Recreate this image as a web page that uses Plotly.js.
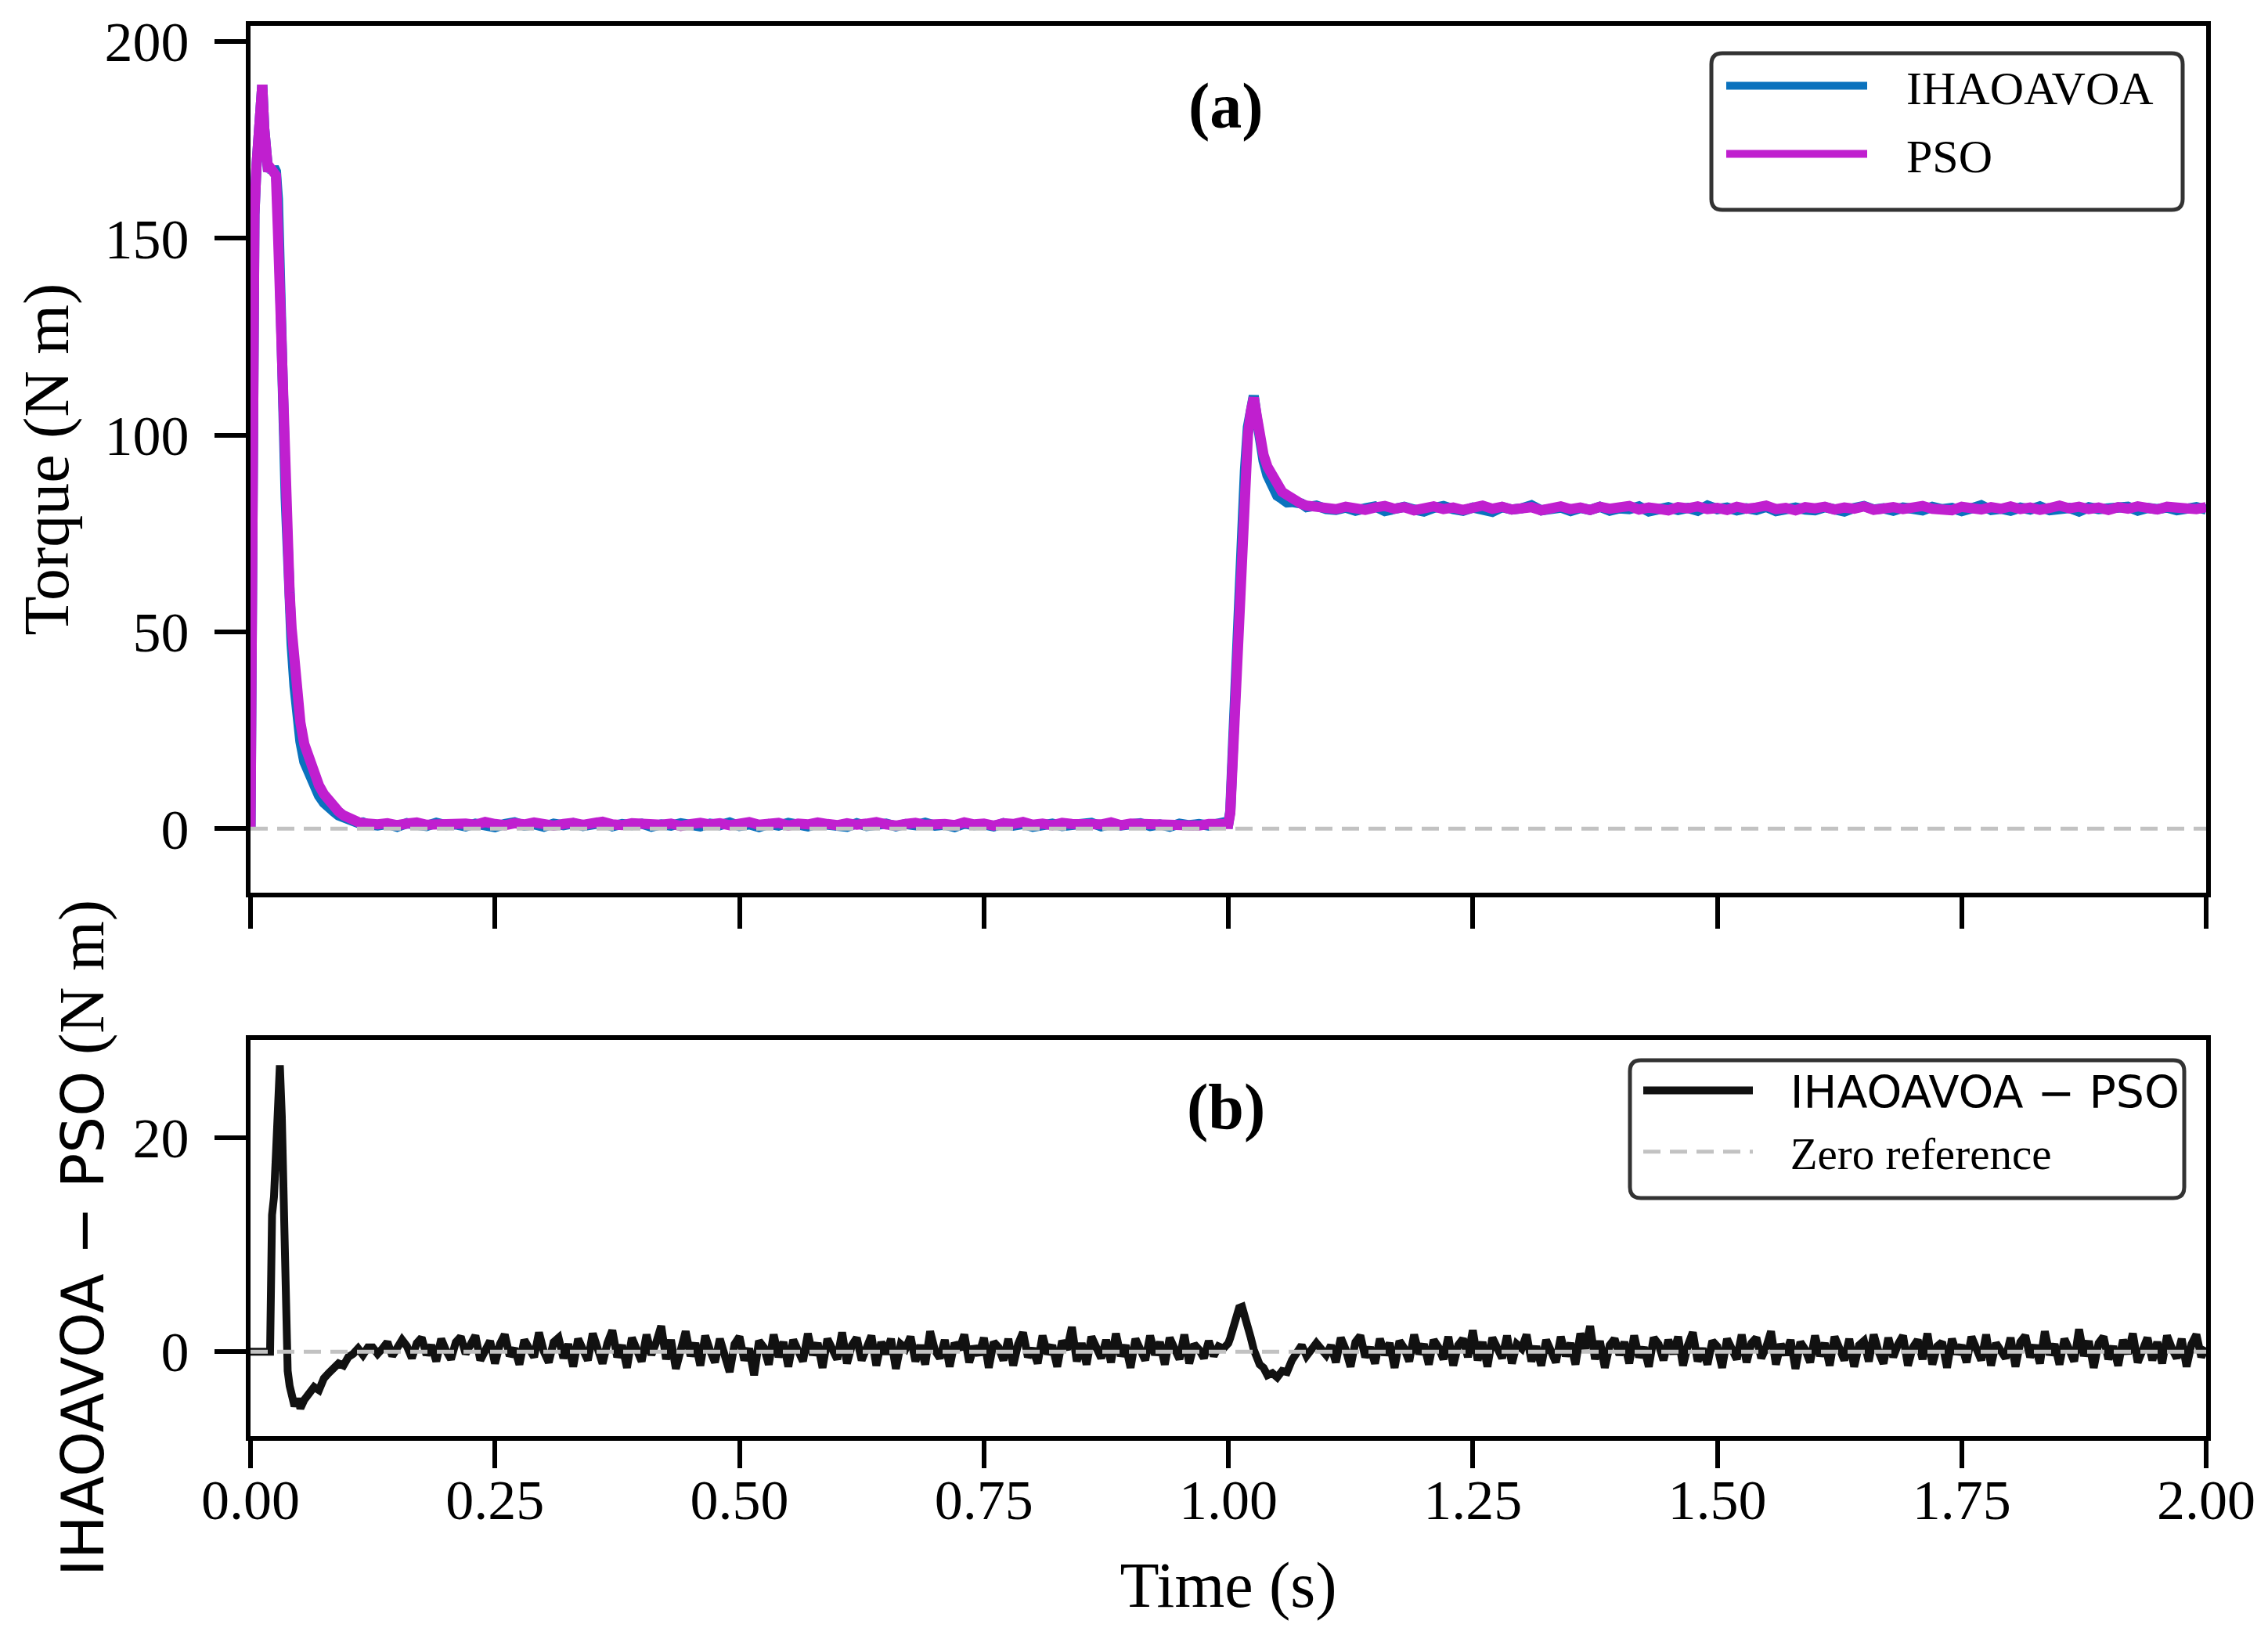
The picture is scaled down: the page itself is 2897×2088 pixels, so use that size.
<!DOCTYPE html>
<html>
<head>
<meta charset="utf-8">
<script src="https://cdn.plot.ly/plotly-3.0.1.min.js"></script>
<style>
  html, body { margin: 0; padding: 0; background: #ffffff; }
  #graph { width: 2897px; height: 2088px; }
</style>
</head>
<body>
<div id="graph"></div>
<script>
// time samples (s) of panel (a), denser around the two transients
var time = [
  0, 0.002, 0.004, 0.006, 0.008, 0.010, 0.012, 0.014, 0.016, 0.018,
  0.020, 0.022, 0.024, 0.026, 0.028, 0.030, 0.032, 0.034, 0.036, 0.038,
  0.040, 0.042, 0.045, 0.048, 0.051, 0.055, 0.060, 0.065, 0.070, 0.075,
  0.080, 0.085, 0.090, 0.095, 0.100, 0.105, 0.110, 0.115, 0.120,
  0.13, 0.14, 0.15, 0.16, 0.17, 0.18, 0.19, 0.20, 0.21, 0.22,
  0.23, 0.24, 0.25, 0.26, 0.27, 0.28, 0.29, 0.30, 0.31, 0.32,
  0.33, 0.34, 0.35, 0.36, 0.37, 0.38, 0.39, 0.40, 0.41, 0.42,
  0.43, 0.44, 0.45, 0.46, 0.47, 0.48, 0.49, 0.50, 0.51, 0.52,
  0.53, 0.54, 0.55, 0.56, 0.57, 0.58, 0.59, 0.60, 0.61, 0.62,
  0.63, 0.64, 0.65, 0.66, 0.67, 0.68, 0.69, 0.70, 0.71, 0.72,
  0.73, 0.74, 0.75, 0.76, 0.77, 0.78, 0.79, 0.80, 0.81, 0.82,
  0.83, 0.84, 0.85, 0.86, 0.87, 0.88, 0.89, 0.90, 0.91, 0.92,
  0.93, 0.94, 0.95, 0.96, 0.97, 0.98, 0.99,
  0.995, 1.000, 1.002, 1.005, 1.008, 1.011, 1.014, 1.017, 1.020, 1.023,
  1.026, 1.029, 1.032, 1.036, 1.040, 1.045, 1.050, 1.055, 1.060, 1.065,
  1.070, 1.075, 1.080, 1.090, 1.100,
  1.11, 1.12, 1.13, 1.14, 1.15, 1.16, 1.17, 1.18, 1.19, 1.20,
  1.21, 1.22, 1.23, 1.24, 1.25, 1.26, 1.27, 1.28, 1.29, 1.30,
  1.31, 1.32, 1.33, 1.34, 1.35, 1.36, 1.37, 1.38, 1.39, 1.40,
  1.41, 1.42, 1.43, 1.44, 1.45, 1.46, 1.47, 1.48, 1.49, 1.50,
  1.51, 1.52, 1.53, 1.54, 1.55, 1.56, 1.57, 1.58, 1.59, 1.60,
  1.61, 1.62, 1.63, 1.64, 1.65, 1.66, 1.67, 1.68, 1.69, 1.70,
  1.71, 1.72, 1.73, 1.74, 1.75, 1.76, 1.77, 1.78, 1.79, 1.80,
  1.81, 1.82, 1.83, 1.84, 1.85, 1.86, 1.87, 1.88, 1.89, 1.90,
  1.91, 1.92, 1.93, 1.94, 1.95, 1.96, 1.97, 1.98, 1.99, 2.00
];

// torque of the IHAOAVOA-tuned controller (N m)
var torqueIhaoavoa = [
  0, 140, 156, 168, 176, 187, 189, 178, 168, 167,
  168, 167, 168, 167, 160, 146, 124, 103, 84, 68.5,
  57, 47, 36.2, 27.8, 22.2, 17, 13.7, 10.5, 8.4, 6.6,
  5.2, 4.4, 3.4, 2.8, 2.4, 2.2, 1.5, 1.6, 1.1,
  0.8, 1.2, 0.5, 1.4, 1.0, 0.7, 1.5, 0.9, 1.1, 0.6,
  1.3, 1.0, 0.4, 1.2, 1.6, 0.8, 1.1, 0.5, 1.3, 0.9,
  1.4, 0.7, 1.0, 1.5, 0.6, 1.2, 0.9, 1.3, 0.5, 1.1,
  0.8, 1.4, 1.0, 0.6, 1.3, 0.9, 1.6, 0.7, 1.1, 0.4,
  1.2, 0.8, 1.5, 1.0, 0.6, 1.3, 0.9, 1.1, 0.5, 1.4,
  0.7, 1.0, 1.3, 0.6, 1.2, 0.9, 1.5, 0.8, 1.0, 0.4,
  1.3, 0.9, 1.1, 0.6, 1.4, 0.8, 1.2, 0.5, 1.0, 1.3,
  0.7, 1.1, 0.9, 1.5, 0.6, 1.2, 0.8, 1.0, 1.4, 0.7,
  1.1, 0.5, 1.3, 0.9, 1.2, 0.8, 1.6,
  1.6, 1.4, 4.5, 22.5, 43, 59, 76, 91, 102, 107,
  110, 104.5, 98.3, 93.5, 89.8, 87.5, 84.6, 83.8, 82.9, 83.0,
  83.1, 82.6, 81.7, 82.1, 81.2,
  81.0, 81.6, 80.8, 81.4, 81.9, 80.7, 81.3, 81.8, 81.1, 80.6,
  81.5, 82.0, 81.2, 80.8, 81.6, 81.3, 80.5, 81.7, 81.1, 81.4,
  82.2, 80.9, 81.3, 81.6, 80.7, 81.5, 81.0, 81.8, 80.8, 81.4,
  81.2, 81.9, 80.6, 81.3, 81.7, 81.0, 81.5, 80.8, 82.1, 81.2,
  81.6, 80.9, 81.4, 81.0, 81.8, 80.7, 81.3, 81.6, 81.1, 80.9,
  81.7, 81.2, 80.6, 81.5, 82.0, 81.1, 81.4, 80.8, 81.6, 81.3,
  80.9, 81.8, 81.2, 81.5, 80.7, 81.4, 82.2, 81.0, 81.3, 80.8,
  81.6, 81.1, 81.9, 80.9, 81.3, 81.5, 80.6, 81.7, 81.2, 81.4,
  81.0, 81.8, 80.8, 81.5, 81.2, 81.6, 80.9, 81.3, 81.7, 81.1
];

// torque of the PSO-tuned controller (N m)
var torquePso = [
  0, 140, 156, 168, 176, 187, 189, 178, 168, 167,
  168, 167, 167, 166, 152, 134, 112, 96, 82, 70,
  60, 51, 41, 33, 27, 21.5, 17.5, 14, 11, 8.8,
  7, 5.6, 4.4, 3.4, 2.7, 2.1, 1.7, 1.4, 1.2,
  1.1, 1.4, 0.9, 1.3, 1.6, 1.0, 1.2, 0.8, 1.5, 1.3,
  1.0, 1.7, 1.2, 0.9, 1.4, 1.1, 1.6, 1.3, 0.8, 1.2,
  1.5, 1.0, 1.3, 1.8, 1.1, 0.9, 1.4, 1.2, 1.6, 1.0,
  1.3, 0.7, 1.2, 1.5, 1.1, 1.4, 0.9, 1.3, 1.7, 1.0,
  1.2, 1.5, 0.8, 1.3, 1.1, 1.6, 1.2, 0.9, 1.4, 1.0,
  1.3, 1.7, 1.1, 0.8, 1.2, 1.5, 1.0, 1.4, 1.2, 0.9,
  1.6, 1.1, 1.3, 0.8, 1.4, 1.2, 1.7, 1.0, 1.3, 0.9,
  1.5, 1.2, 1.0, 1.4, 1.1, 1.6, 0.9, 1.3, 1.2, 1.5,
  1.0, 1.4, 1.1, 1.3, 0.8, 1.2, 1.4,
  1.3, 1.2, 4, 21, 40, 55, 72, 88, 100, 106,
  109.5, 105, 99.5, 95, 92, 89.5, 87, 85.6, 84.8, 83.8,
  83.0, 82.5, 82.1, 81.7, 81.5,
  81.2, 81.8, 81.4, 81.0, 81.6, 82.0, 81.3, 81.7, 80.9, 81.5,
  81.9, 81.2, 81.6, 81.0, 81.4, 82.1, 81.3, 81.8, 81.1, 81.5,
  81.7, 80.9, 81.4, 81.9, 81.2, 81.6, 81.0, 81.8, 81.3, 81.5,
  82.0, 81.1, 81.6, 81.3, 80.9, 81.7, 81.4, 81.9, 81.2, 81.5,
  81.0, 81.8, 81.3, 81.6, 82.1, 81.2, 81.5, 80.9, 81.7, 81.4,
  81.8, 81.1, 81.6, 81.3, 81.9, 81.0, 81.5, 81.7, 81.2, 81.6,
  82.0, 81.3, 81.4, 80.9, 81.8, 81.5, 81.1, 81.7, 81.3, 81.9,
  81.2, 81.6, 81.0, 81.5, 82.1, 81.4, 81.8, 81.2, 81.6, 81.0,
  81.7, 81.3, 81.9, 81.5, 81.1, 81.8, 81.4, 81.6, 81.2, 81.7
];

// time samples (s) of panel (b), finer in the steady parts
var diffTime = [
  0, 0.002, 0.004, 0.006, 0.008, 0.010, 0.012, 0.014, 0.016, 0.018,
  0.020, 0.022, 0.024, 0.026, 0.028, 0.030, 0.032, 0.034, 0.036, 0.038,
  0.040, 0.042, 0.045, 0.048, 0.051, 0.055, 0.060, 0.065, 0.070, 0.075,
  0.080, 0.085, 0.090, 0.095, 0.100, 0.105, 0.110, 0.115, 0.120,
  0.125, 0.130, 0.135, 0.140, 0.145, 0.150, 0.155, 0.160, 0.165, 0.170,
  0.175, 0.180, 0.185, 0.190, 0.195, 0.200, 0.205, 0.210, 0.215, 0.220,
  0.225, 0.230, 0.235, 0.240, 0.245, 0.250, 0.255, 0.260, 0.265, 0.270,
  0.275, 0.280, 0.285, 0.290, 0.295, 0.300, 0.305, 0.310, 0.315, 0.320,
  0.325, 0.330, 0.335, 0.340, 0.345, 0.350, 0.355, 0.360, 0.365, 0.370,
  0.375, 0.380, 0.385, 0.390, 0.395, 0.400, 0.405, 0.410, 0.415, 0.420,
  0.425, 0.430, 0.435, 0.440, 0.445, 0.450, 0.455, 0.460, 0.465, 0.470,
  0.475, 0.480, 0.485, 0.490, 0.495, 0.500, 0.505, 0.510, 0.515, 0.520,
  0.525, 0.530, 0.535, 0.540, 0.545, 0.550, 0.555, 0.560, 0.565, 0.570,
  0.575, 0.580, 0.585, 0.590, 0.595, 0.600, 0.605, 0.610, 0.615, 0.620,
  0.625, 0.630, 0.635, 0.640, 0.645, 0.650, 0.655, 0.660, 0.665, 0.670,
  0.675, 0.680, 0.685, 0.690, 0.695, 0.700, 0.705, 0.710, 0.715, 0.720,
  0.725, 0.730, 0.735, 0.740, 0.745, 0.750, 0.755, 0.760, 0.765, 0.770,
  0.775, 0.780, 0.785, 0.790, 0.795, 0.800, 0.805, 0.810, 0.815, 0.820,
  0.825, 0.830, 0.835, 0.840, 0.845, 0.850, 0.855, 0.860, 0.865, 0.870,
  0.875, 0.880, 0.885, 0.890, 0.895, 0.900, 0.905, 0.910, 0.915, 0.920,
  0.925, 0.930, 0.935, 0.940, 0.945, 0.950, 0.955, 0.960, 0.965, 0.970,
  0.975, 0.980, 0.985, 0.990,
  0.995, 1.000, 1.002, 1.005, 1.008, 1.011, 1.014, 1.017, 1.020, 1.023,
  1.026, 1.029, 1.032, 1.036, 1.040, 1.045, 1.050, 1.055, 1.060, 1.065,
  1.070, 1.075, 1.080, 1.090, 1.100,
  1.105, 1.110, 1.115, 1.120, 1.125, 1.130, 1.135, 1.140, 1.145, 1.150,
  1.155, 1.160, 1.165, 1.170, 1.175, 1.180, 1.185, 1.190, 1.195, 1.200,
  1.205, 1.210, 1.215, 1.220, 1.225, 1.230, 1.235, 1.240, 1.245, 1.250,
  1.255, 1.260, 1.265, 1.270, 1.275, 1.280, 1.285, 1.290, 1.295, 1.300,
  1.305, 1.310, 1.315, 1.320, 1.325, 1.330, 1.335, 1.340, 1.345, 1.350,
  1.355, 1.360, 1.365, 1.370, 1.375, 1.380, 1.385, 1.390, 1.395, 1.400,
  1.405, 1.410, 1.415, 1.420, 1.425, 1.430, 1.435, 1.440, 1.445, 1.450,
  1.455, 1.460, 1.465, 1.470, 1.475, 1.480, 1.485, 1.490, 1.495, 1.500,
  1.505, 1.510, 1.515, 1.520, 1.525, 1.530, 1.535, 1.540, 1.545, 1.550,
  1.555, 1.560, 1.565, 1.570, 1.575, 1.580, 1.585, 1.590, 1.595, 1.600,
  1.605, 1.610, 1.615, 1.620, 1.625, 1.630, 1.635, 1.640, 1.645, 1.650,
  1.655, 1.660, 1.665, 1.670, 1.675, 1.680, 1.685, 1.690, 1.695, 1.700,
  1.705, 1.710, 1.715, 1.720, 1.725, 1.730, 1.735, 1.740, 1.745, 1.750,
  1.755, 1.760, 1.765, 1.770, 1.775, 1.780, 1.785, 1.790, 1.795, 1.800,
  1.805, 1.810, 1.815, 1.820, 1.825, 1.830, 1.835, 1.840, 1.845, 1.850,
  1.855, 1.860, 1.865, 1.870, 1.875, 1.880, 1.885, 1.890, 1.895, 1.900,
  1.905, 1.910, 1.915, 1.920, 1.925, 1.930, 1.935, 1.940, 1.945, 1.950,
  1.955, 1.960, 1.965, 1.970, 1.975, 1.980, 1.985, 1.990, 1.995, 2.000
];

// difference IHAOAVOA - PSO (N m)
var torqueDiff = [
  0, 0, 0, 0, 0, 0, 0, 0, 0, 0,
  0, 12.8, 14.5, 18.5, 23, 26.8, 22, 11, 1.5, -1.8,
  -3.2, -4.2, -5.1, -4.4, -5.3, -4.5, -3.9, -3.3, -3.6, -2.5,
  -2.0, -1.6, -1.1, -1.3, -0.5, -0.2, 0.3, -0.3, 0.4,
  0.4, -0.2, 0.3, 0.9, -0.4, 0.2, 1.1, 0.5, -0.6, 0.8,
  1.3, -0.3, 0.6, -0.9, 1.2, 0.1, -0.7, 0.9, 1.4, -0.2,
  0.5, 1.5, -0.8, 0.2, 1.0, -1.1, 0.7, 1.6, -0.4, 0.3,
  -1.2, 1.1, 0.4, -0.5, 1.8, 0.0, -1.0, 0.9, 1.3, -0.6,
  0.7, -1.4, 1.2, 0.3, -0.8, 1.7, 0.5, -1.1, 0.8, 2.0,
  -0.5, 0.6, -1.5, 1.3, 0.2, -0.9, 1.6, -0.3, 0.9, 2.4,
  -0.7, 1.1, -1.6, 0.5, 1.9, -0.4, 0.8, -1.3, 1.5, 0.1,
  -1.0, 1.2, -0.2, -1.9, 0.7, 1.4, -0.8, 0.3, -2.2, 1.0,
  0.4, -1.2, 1.6, -0.5, 0.9, -1.4, 1.1, 0.2, -0.9, 1.7,
  -0.3, 0.8, -1.5, 1.2, 0.0, -0.7, 1.8, -1.1, 0.6, 1.3,
  -0.8, 0.5, 1.5, -1.3, 0.9, -0.2, 1.2, -1.6, 0.7, 0.3,
  1.4, -0.9, 0.6, -1.2, 1.9, 0.1, -0.6, 1.1, -1.4, 0.8,
  0.2, 1.6, -1.0, 0.5, -0.3, 1.3, -1.5, 0.9, 0.4, -0.8,
  1.2, -1.3, 0.7, 1.8, -0.5, 0.3, -1.1, 1.5, -0.2, 0.6,
  -1.4, 1.0, 0.2, 2.3, -0.9, 0.8, -1.2, 1.4, 0.5, -0.6,
  1.1, -1.0, 1.7, -0.4, 0.6, -1.5, 1.2, 0.0, -0.8, 1.5,
  -0.3, 0.9, -1.2, 1.3, 0.4, -0.7, 1.6, -1.1, 0.7, 0.2,
  -0.6, 1.0, -0.4, 0.5,
  0.3, 0.8, 1.3, 2.2, 3.3, 4.1, 4.2, 3.4, 2.4, 1.3,
  0.2, -0.5, -1.2, -1.5, -2.2, -2.0, -2.4, -1.8, -1.9, -0.8,
  0.1, 0.6, -0.4, 0.8, -0.3,
  0.6, -1.0, 1.3, 0.2, -1.4, 0.9, 1.5, -0.5, 0.4, -1.1,
  1.2, -0.3, 0.8, -1.5, 1.0, 0.3, -0.9, 1.6, -0.2, 0.7,
  -1.2, 1.1, 0.4, -0.7, 1.4, -1.3, 0.6, 1.2, -0.5, 2.0,
  -0.8, 0.9, -1.4, 1.3, 0.1, -0.6, 1.5, -1.1, 0.7, 0.3,
  1.6, -0.9, 0.5, -1.3, 1.1, 0.2, -1.0, 1.4, -0.4, 0.8,
  -1.2, 1.7, 0.3, 2.4, -0.7, 1.0, -1.5, 0.6, 1.2, -0.3,
  0.9, -1.1, 1.5, -0.5, 0.4, -1.4, 1.3, 0.7, -0.8, 1.1,
  -0.2, 1.4, -1.3, 0.6, 1.8, -0.9, 0.3, -1.2, 1.0, 0.5,
  -1.5, 1.2, 0.1, -0.7, 1.6, -1.0, 0.8, 1.3, -0.6, 0.4,
  1.9, -1.2, 0.7, -0.3, 1.1, -1.6, 0.9, 0.2, -1.0, 1.5,
  -0.4, 0.8, -1.3, 1.4, 0.3, -0.8, 1.2, -1.4, 0.6, 1.0,
  -0.9, 1.6, 0.0, -1.1, 1.3, -0.5, 0.7, 1.5, -1.3, 0.4,
  1.1, -0.7, 1.7, -1.2, 0.5, 0.9, -1.5, 1.2, -0.2, 0.6,
  -1.0, 1.4, 0.3, -0.8, 1.6, -1.3, 0.8, 0.1, -0.6, 1.3,
  -1.4, 0.9, 1.5, -0.5, 0.6, -1.1, 1.9, -0.3, 0.7, -1.2,
  1.2, 0.2, -0.9, 2.1, -0.4, 1.0, -1.5, 0.8, 1.4, -0.7,
  0.5, -1.3, 1.1, -0.2, 1.7, -1.0, 0.4, 1.3, -0.8, 0.9,
  -1.1, 1.5, 0.3, -0.6, 1.2, -1.4, 0.7, 1.6, -0.5, 0.4
];

// dashed zero reference, start and end of the time span
var zeroTime = [0, 2];
var zeroValue = [0, 0];

// tick marks
var timeTicks = [0, 0.25, 0.5, 0.75, 1.0, 1.25, 1.5, 1.75, 2.0];
var timeTickText = ['0.00', '0.25', '0.50', '0.75', '1.00', '1.25', '1.50', '1.75', '2.00'];
var torqueTicks = [0, 50, 100, 150, 200];
var diffTicks = [0, 20];

var serif = 'Liberation Serif, Times New Roman, serif';

var blue = '#0b72bd';
var magenta = '#c01fcf';
var grey = '#c2c2c2';
var gap = '\u00a0\u00a0\u00a0';

var traces = [
    {
        x: time, y: torqueIhaoavoa, xaxis: 'x', yaxis: 'y',
        type: 'scatter', mode: 'lines', name: gap + 'IHAOAVOA',
        line: {color: blue, width: 13}, legend: 'legend', legendgroup: 'a'
    },
    {
        x: time, y: torquePso, xaxis: 'x', yaxis: 'y',
        type: 'scatter', mode: 'lines', name: gap + 'PSO',
        line: {color: magenta, width: 13}, legend: 'legend', legendgroup: 'b'
    },
    {
        x: zeroTime, y: zeroValue, xaxis: 'x', yaxis: 'y',
        type: 'scatter', mode: 'lines', showlegend: false,
        line: {color: grey, width: 5, dash: '22px,12px'}
    },
    {
        x: diffTime, y: torqueDiff, xaxis: 'x2', yaxis: 'y2',
        type: 'scatter', mode: 'lines',
        name: gap + '<span style="font-family:DejaVu Sans">IHAOAVOA \u2212 PSO</span>',
        line: {color: '#111111', width: 10}, legend: 'legend2', legendgroup: 'c'
    },
    {
        x: zeroTime, y: zeroValue, xaxis: 'x2', yaxis: 'y2',
        type: 'scatter', mode: 'lines', name: gap + 'Zero reference',
        line: {color: grey, width: 5, dash: '22px,12px'}, legend: 'legend2', legendgroup: 'd'
    },
    {
        // empty trace so the tick-mark axis of panel (b) is drawn
        x: [], y: [], xaxis: 'x3', yaxis: 'y2', type: 'scatter', mode: 'lines', showlegend: false
    }
];

// shared look of every axis
function axisStyle(extra) {
    var base = {
        showline: true, linecolor: '#000000', linewidth: 6, mirror: true,
        ticks: 'outside', ticklen: 40, tickwidth: 6, tickcolor: '#000000',
        showgrid: false, zeroline: false,
        tickfont: {family: serif, size: 72, color: '#000000'},
        ticklabelstandoff: 18
    };
    for (var k in extra) base[k] = extra[k];
    return base;
}

// rounded legend frame in paper units (box given in pixels)
var plotW = 2897 - 320 - 79;
var plotH = 2088 - 33 - 254;
function legendFrame(left, top, right, bottom) {
    var x0 = (left - 320) / plotW, x1 = (right - 320) / plotW;
    var y1 = (2088 - 254 - top) / plotH, y0 = (2088 - 254 - bottom) / plotH;
    var rx = 14 / plotW, ry = 14 / plotH;
    var p = 'M' + (x0 + rx) + ',' + y1 +
        ' L' + (x1 - rx) + ',' + y1 + ' Q' + x1 + ',' + y1 + ' ' + x1 + ',' + (y1 - ry) +
        ' L' + x1 + ',' + (y0 + ry) + ' Q' + x1 + ',' + y0 + ' ' + (x1 - rx) + ',' + y0 +
        ' L' + (x0 + rx) + ',' + y0 + ' Q' + x0 + ',' + y0 + ' ' + x0 + ',' + (y0 + ry) +
        ' L' + x0 + ',' + (y1 - ry) + ' Q' + x0 + ',' + y1 + ' ' + (x0 + rx) + ',' + y1 + ' Z';
    return {
        type: 'path', xref: 'paper', yref: 'paper', path: p, layer: 'above',
        fillcolor: '#ffffff', line: {color: '#333333', width: 5}
    };
}

var layout = {
    width: 2897,
    height: 2088,
    margin: {l: 320, r: 79, t: 33, b: 254},
    paper_bgcolor: '#ffffff',
    plot_bgcolor: '#ffffff',
    font: {family: serif, color: '#000000'},
    xaxis: axisStyle({
        anchor: 'y', domain: [0, 1], range: [0, 2],
        tickvals: timeTicks, ticktext: timeTickText, showticklabels: false
    }),
    xaxis2: axisStyle({
        anchor: 'y2', domain: [0, 1], range: [0, 2], matches: 'x',
        tickvals: timeTicks, ticktext: timeTickText, ticks: '',
        ticklabelstandoff: 14,
        title: {text: 'Time (s)', font: {family: serif, size: 82}, standoff: 41}
    }),
    xaxis3: axisStyle({
        anchor: 'y2', overlaying: 'x2', matches: 'x', range: [0, 2],
        tickvals: timeTicks, showticklabels: false, showline: false, mirror: false
    }),
    yaxis: axisStyle({
        anchor: 'x', domain: [0.3852, 1], range: [-16.3, 204],
        tickvals: torqueTicks,
        title: {text: 'Torque (N m)', font: {family: serif, size: 82}, standoff: 21}
    }),
    yaxis2: axisStyle({
        anchor: 'x2', domain: [0, 0.2811], range: [-7.9, 29.2],
        tickvals: diffTicks,
        title: {
            text: '<span style="font-family:DejaVu Sans;font-size:74px">IHAOAVOA \u2212 PSO</span> (N m)',
            font: {family: serif, size: 82}, standoff: 12
        }
    }),
    legend: {
        x: (2200 - 320) / plotW, xanchor: 'left', y: (2088 - 254 - 64) / plotH, yanchor: 'top',
        bgcolor: 'rgba(0,0,0,0)', borderwidth: 0,
        font: {family: serif, size: 60, color: '#000000'},
        itemwidth: 180, tracegroupgap: 6, traceorder: 'grouped'
    },
    legend2: {
        x: (2094 - 320) / plotW, xanchor: 'left', y: (2088 - 254 - 1349) / plotH, yanchor: 'top',
        bgcolor: 'rgba(0,0,0,0)', borderwidth: 0,
        font: {family: serif, size: 57, color: '#000000'},
        itemwidth: 140, tracegroupgap: 1, traceorder: 'grouped'
    },
    shapes: [
        legendFrame(2186, 68, 2788, 268),
        legendFrame(2082, 1354, 2790, 1530)
    ],
    annotations: [
        {
            text: '<b>(a)</b>', xref: 'paper', yref: 'paper', x: 0.4988, y: 0.9433,
            xanchor: 'center', yanchor: 'middle', showarrow: false,
            font: {family: serif, size: 82, color: '#000000'}
        },
        {
            text: '<b>(b)</b>', xref: 'paper', yref: 'paper', x: 0.4988, y: 0.2336,
            xanchor: 'center', yanchor: 'middle', showarrow: false,
            font: {family: serif, size: 82, color: '#000000'}
        }
    ],
    showlegend: true
};

Plotly.newPlot('graph', traces, layout, {displayModeBar: false, staticPlot: true});
</script>
</body>
</html>
